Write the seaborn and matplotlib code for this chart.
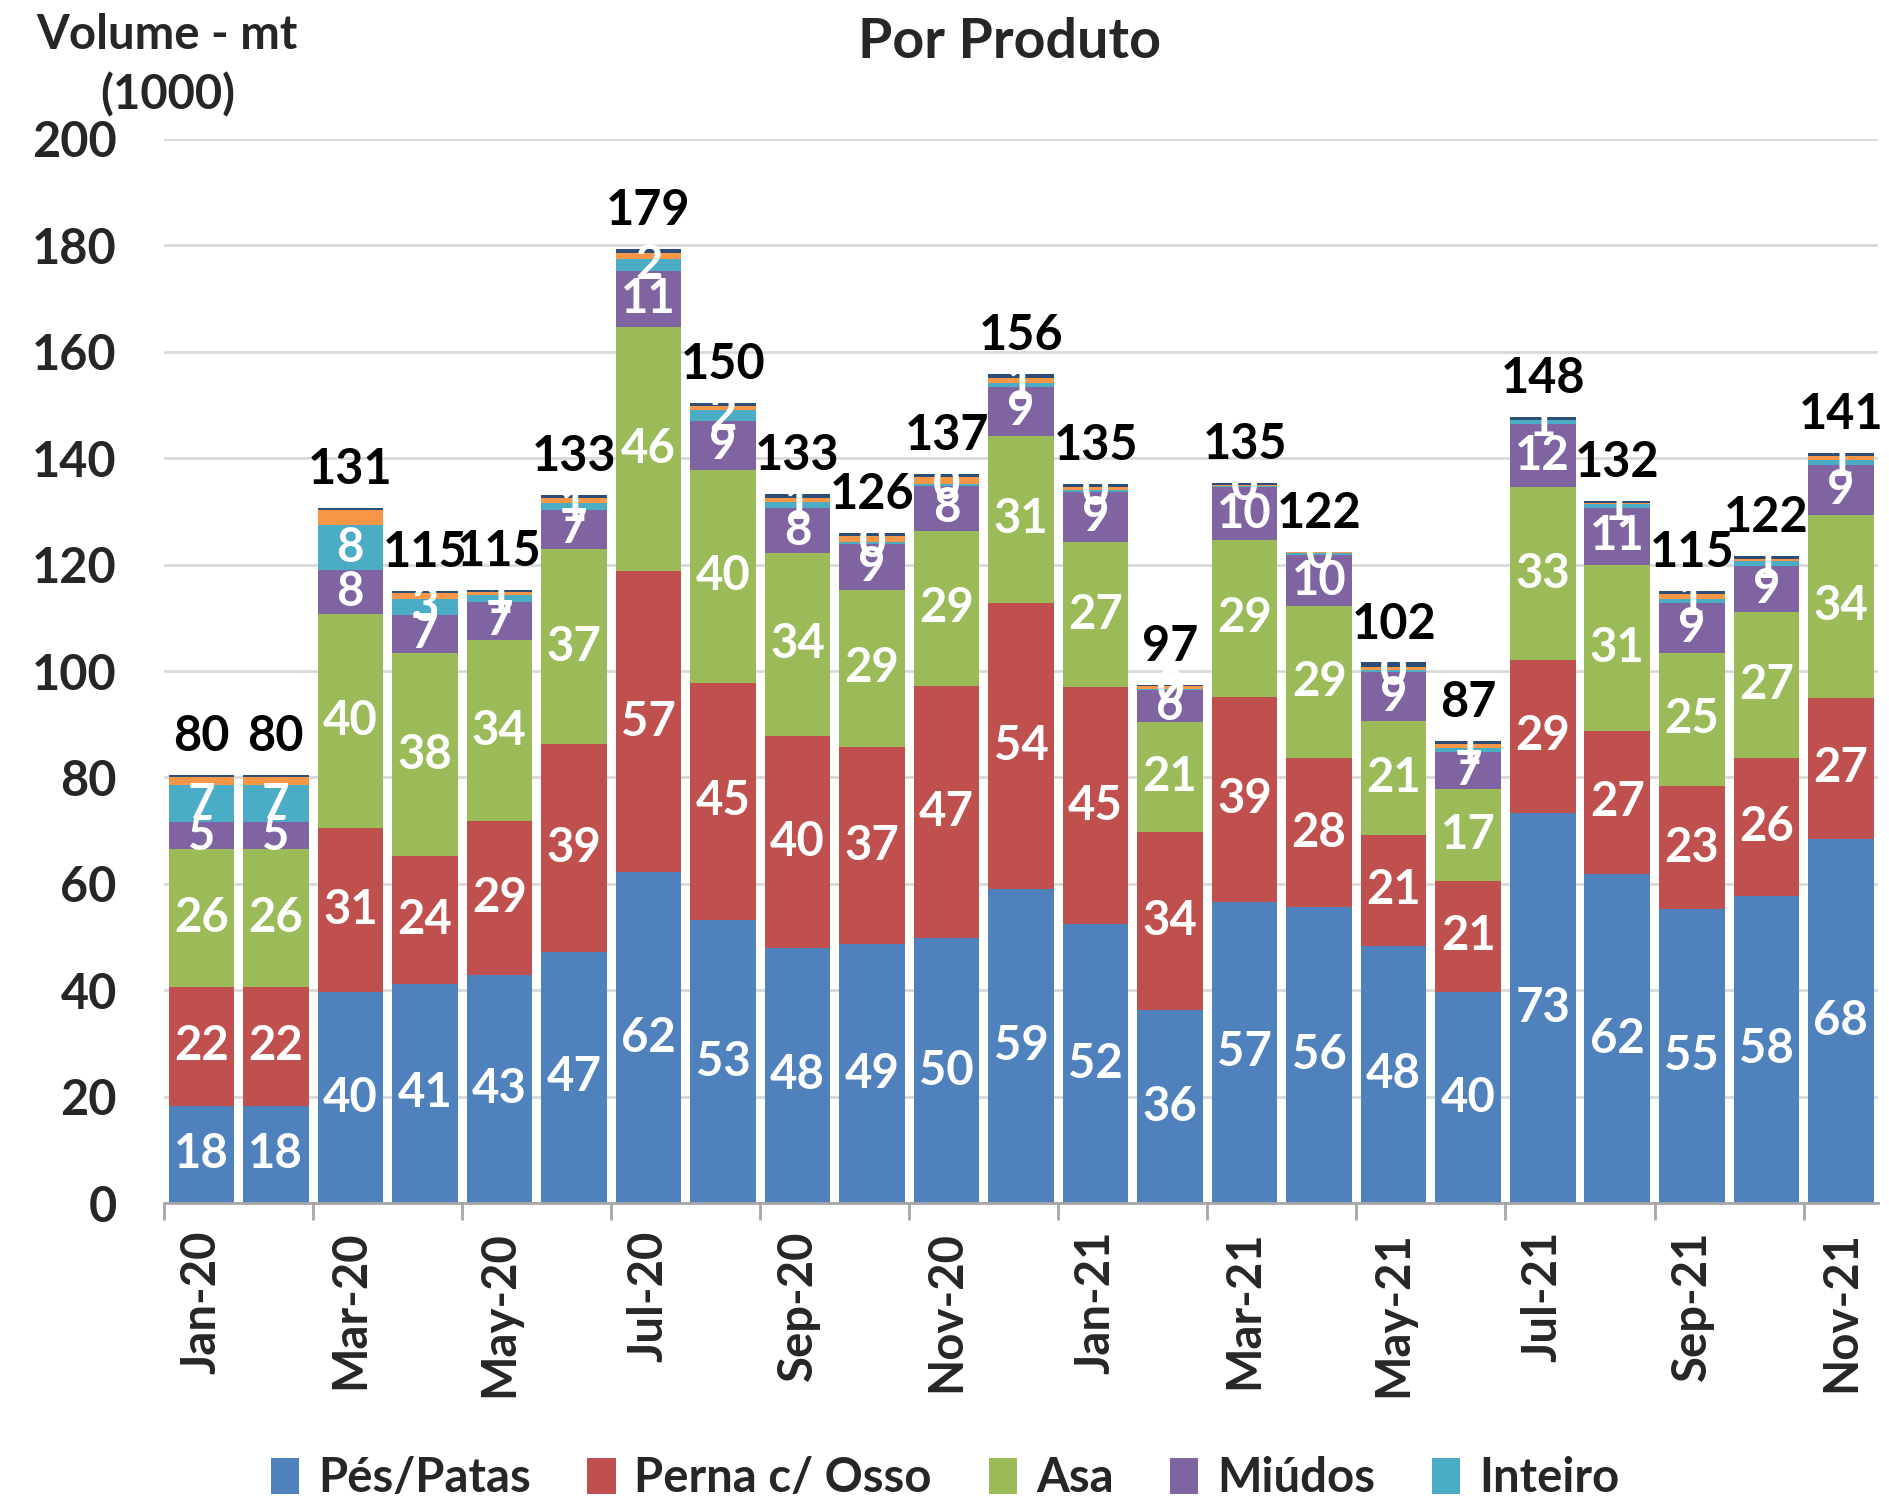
import numpy as np
import pandas as pd
import matplotlib
matplotlib.use("Agg")
import matplotlib.pyplot as plt
import seaborn as sns
from matplotlib.patches import Patch

months = ["Jan-20", "Feb-20", "Mar-20", "Apr-20", "May-20", "Jun-20", "Jul-20", "Aug-20",
          "Sep-20", "Oct-20", "Nov-20", "Dec-20", "Jan-21", "Feb-21", "Mar-21", "Apr-21",
          "May-21", "Jun-21", "Jul-21", "Aug-21", "Sep-21", "Oct-21", "Nov-21"]

pes_patas = [18.3, 18.3, 39.6, 41.2, 42.8, 47.2, 62.2, 53.2, 48.0, 48.6, 49.8, 59.0,
             52.4, 36.2, 56.6, 55.6, 48.4, 39.6, 73.4, 61.8, 55.2, 57.8, 68.4]
perna_osso = [22.4, 22.4, 30.8, 24.0, 29.0, 39.0, 56.6, 44.6, 39.8, 37.2, 47.4, 53.8,
              44.6, 33.6, 38.6, 28.0, 20.8, 21.0, 28.6, 27.0, 23.2, 25.8, 26.6]
asa = [25.8, 25.8, 40.4, 38.2, 34.0, 36.8, 45.8, 40.0, 34.4, 29.4, 29.2, 31.4,
       27.2, 20.6, 29.4, 28.6, 21.4, 17.2, 32.6, 31.2, 25.0, 27.4, 34.4]
miudos = [5.1, 5.1, 8.2, 7.2, 7.2, 7.3, 10.6, 9.2, 8.4, 8.6, 8.4, 9.2,
          9.4, 6.0, 10.0, 9.6, 9.2, 7.0, 11.8, 10.6, 9.4, 8.8, 9.4]
inteiro = [6.9, 6.9, 8.4, 3.0, 1.2, 1.2, 2.3, 2.0, 1.2, 0.4, 0.4, 0.8,
           0.4, 0.3, 0.2, 0.3, 0.4, 0.8, 0.8, 0.8, 0.8, 0.8, 0.8]
outros_a = [1.6, 1.6, 2.8, 1.0, 0.6, 1.0, 1.1, 0.8, 0.8, 1.2, 1.2, 0.8,
            0.6, 0.4, 0.1, 0.2, 0.6, 0.6, 0.0, 0.1, 0.8, 0.4, 0.8]
outros_b = [0.3, 0.3, 0.4, 0.5, 0.4, 0.6, 0.7, 0.6, 0.7, 0.6, 0.6, 0.8,
            0.6, 0.3, 0.5, 0.1, 0.8, 0.6, 0.6, 0.5, 0.6, 0.6, 0.6]

series_names = ["Pés/Patas", "Perna c/ Osso", "Asa", "Miúdos", "Inteiro", "Outros A", "Outros B"]
series_vals = [pes_patas, perna_osso, asa, miudos, inteiro, outros_a, outros_b]
colors = ["#4F81BD", "#C0504D", "#9BBB59", "#8064A2", "#4BACC6", "#F79646", "#2C4D75"]
labelled = [True, True, True, True, True, False, False]
legend_n = 5

sns.set_theme(style="white")
FONT = ["Lato", "DejaVu Sans"]
plt.rcParams["font.family"] = FONT
plt.rcParams["font.weight"] = "bold"

fig = plt.figure(figsize=(18.9, 15.04), dpi=100)
ax = fig.add_axes([0.0868, 0.2001, 0.9069, 0.7075])

vals = np.array(series_vals)
cum = np.cumsum(vals, axis=0)
n = len(months)

# draw cumulative bars from the top layer down
for k in range(len(series_names) - 1, -1, -1):
    df = pd.DataFrame({"month": months, "value": cum[k]})
    sns.barplot(data=df, x="month", y="value", order=months, color=colors[k],
                saturation=1, width=0.88, errorbar=None, ax=ax, zorder=3,
                linewidth=0)

ax.set_ylim(0, 200)
ax.set_xlim(-0.5, n - 0.5)
ax.set_yticks(np.arange(0, 201, 20))
ax.yaxis.grid(True, color="#D9D9D9", linewidth=2, zorder=0)
ax.set_axisbelow(True)
for s in ["left", "right", "top"]:
    ax.spines[s].set_visible(False)
ax.spines["bottom"].set_color("#A6A6A6")
ax.spines["bottom"].set_linewidth(2)
ax.spines["bottom"].set_zorder(4)

ax.set_xticks(np.arange(0, n, 2))
ax.set_xticklabels(months[::2], rotation=90, fontsize=34, fontweight="bold", va="top")
ax.set_xticks(np.arange(-0.5, n, 2), minor=True)
ax.tick_params(axis="x", which="major", length=0, pad=20)
ax.tick_params(axis="x", which="minor", length=12, width=2, color="#A6A6A6", bottom=True)
ax.tick_params(axis="y", length=0, pad=34, labelsize=35)
for t in ax.get_yticklabels():
    t.set_fontweight("bold")
ax.set_xlabel("")
ax.set_ylabel("")

# segment labels
for k in range(len(series_names)):
    if not labelled[k]:
        continue
    for i in range(n):
        v = vals[k][i]
        mid = cum[k][i] - v / 2
        ax.text(i, mid, f"{v:.0f}", ha="center", va="center", color="white",
                fontsize=34, fontweight="bold", zorder=6)

totals = cum[-1]
for i in range(n):
    ax.text(i, totals[i] + 3, f"{totals[i]:.0f}", ha="center", va="bottom",
            color="black", fontsize=35, fontweight="bold", zorder=6)

fig.text(0.534, 0.972, "Por Produto", ha="center", va="center", fontsize=40, fontweight="bold")
fig.text(0.019, 0.977, "Volume - mt", ha="left", va="center", fontsize=34, fontweight="bold")
fig.text(0.053, 0.937, "(1000)", ha="left", va="center", fontsize=34, fontweight="bold")

handles = [Patch(facecolor=colors[k], edgecolor="none") for k in range(legend_n)]
fig.legend(handles, series_names[:legend_n], loc="center", bbox_to_anchor=(0.5, 0.017),
           ncol=legend_n, frameon=False, handlelength=0.6, handleheight=0.8,
           handletextpad=0.4, columnspacing=1.2, prop={"weight": "bold", "size": 34})

fig.savefig("out.png", dpi=100)
